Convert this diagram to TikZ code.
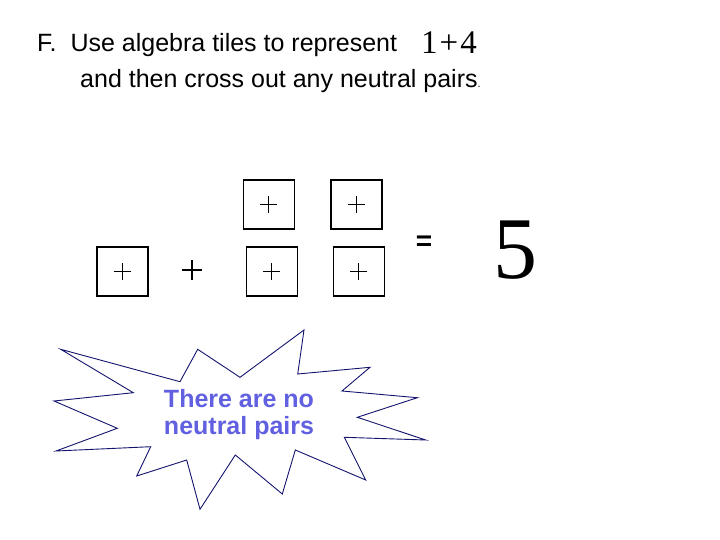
\documentclass[tikz,border=0pt]{standalone}
\usepackage{fontspec}
\setmainfont{Liberation Sans}
\newfontfamily\seriff{Liberation Serif}
\definecolor{burstline}{RGB}{20,20,110}
\definecolor{bursttext}{RGB}{96,96,224}
\begin{document}
\begin{tikzpicture}[x=1pt,y=-1pt,
  tile/.style={draw=black,line width=1.6pt,minimum width=51pt,minimum height=49pt,inner sep=0pt},
  plusmark/.style={inner sep=0pt},
  title/.style={anchor=base west,inner sep=0pt,font=\fontsize{25}{29}\selectfont}]
\useasboundingbox (0,0) rectangle (720,540);
% title
\node[title] (t1) at (37,52) {F.\ \ Use algebra tiles to represent};
\node[anchor=base west,inner sep=0pt,font=\seriff\fontsize{33}{36}\selectfont] (t2) at (421,54) {1\kern2pt+\kern2pt4};
\node[title] (t3) at (80,88) {and then cross out any neutral pairs\fontsize{11}{12}\selectfont.};
% tiles
\newcommand{\pl}{\begin{tikzpicture}[x=1pt,y=1pt]\draw[line width=1pt] (-8.5,0)--(8.5,0) (0,-8.5)--(0,8.5);\end{tikzpicture}}
\node[tile] (a1) at (268.8,204.5) {\pl};
\node[tile] (a2) at (356.2,204.5) {\pl};
\node[tile] (b1) at (122.2,271.2) {\pl};
\node[tile] (b2) at (271.8,271.2) {\pl};
\node[tile] (b3) at (358.8,271.2) {\pl};
\node[plusmark] (p) at (191.7,270) {\begin{tikzpicture}[x=1pt,y=1pt]\draw[line width=1.8pt] (-10,0)--(10,0) (0,-10)--(0,10);\end{tikzpicture}};
\node[inner sep=0pt,font=\bfseries\fontsize{28}{30}\selectfont] (eq) at (424,243) {=};
\node[inner sep=0pt,font=\seriff\fontsize{88}{90}\selectfont] (five) at (515,250) {5};
% burst
\draw[burstline,line width=0.9pt,line join=miter] (60.7,349.3) -- (180,381.7) -- (197.7,349.3) -- (240,377.3) -- (304,330) -- (297.7,374) -- (370,367.3) -- (342,391) -- (417.3,397.7) -- (357.3,417.3) -- (425.7,440) -- (344.3,437.3) -- (365.7,480) -- (295.3,450) -- (282.3,494) -- (235.3,455) -- (200,509.3) -- (186.7,460) -- (136.7,476) -- (150.7,446.7) -- (56,451) -- (117.3,428.3) -- (54,401) -- (133.3,392.7) -- cycle;
\node[align=center,inner sep=0pt,text=bursttext,font=\bfseries\fontsize{25}{27}\selectfont] (msg) at (239,415) {There are no\\neutral pairs};
\end{tikzpicture}
\end{document}
